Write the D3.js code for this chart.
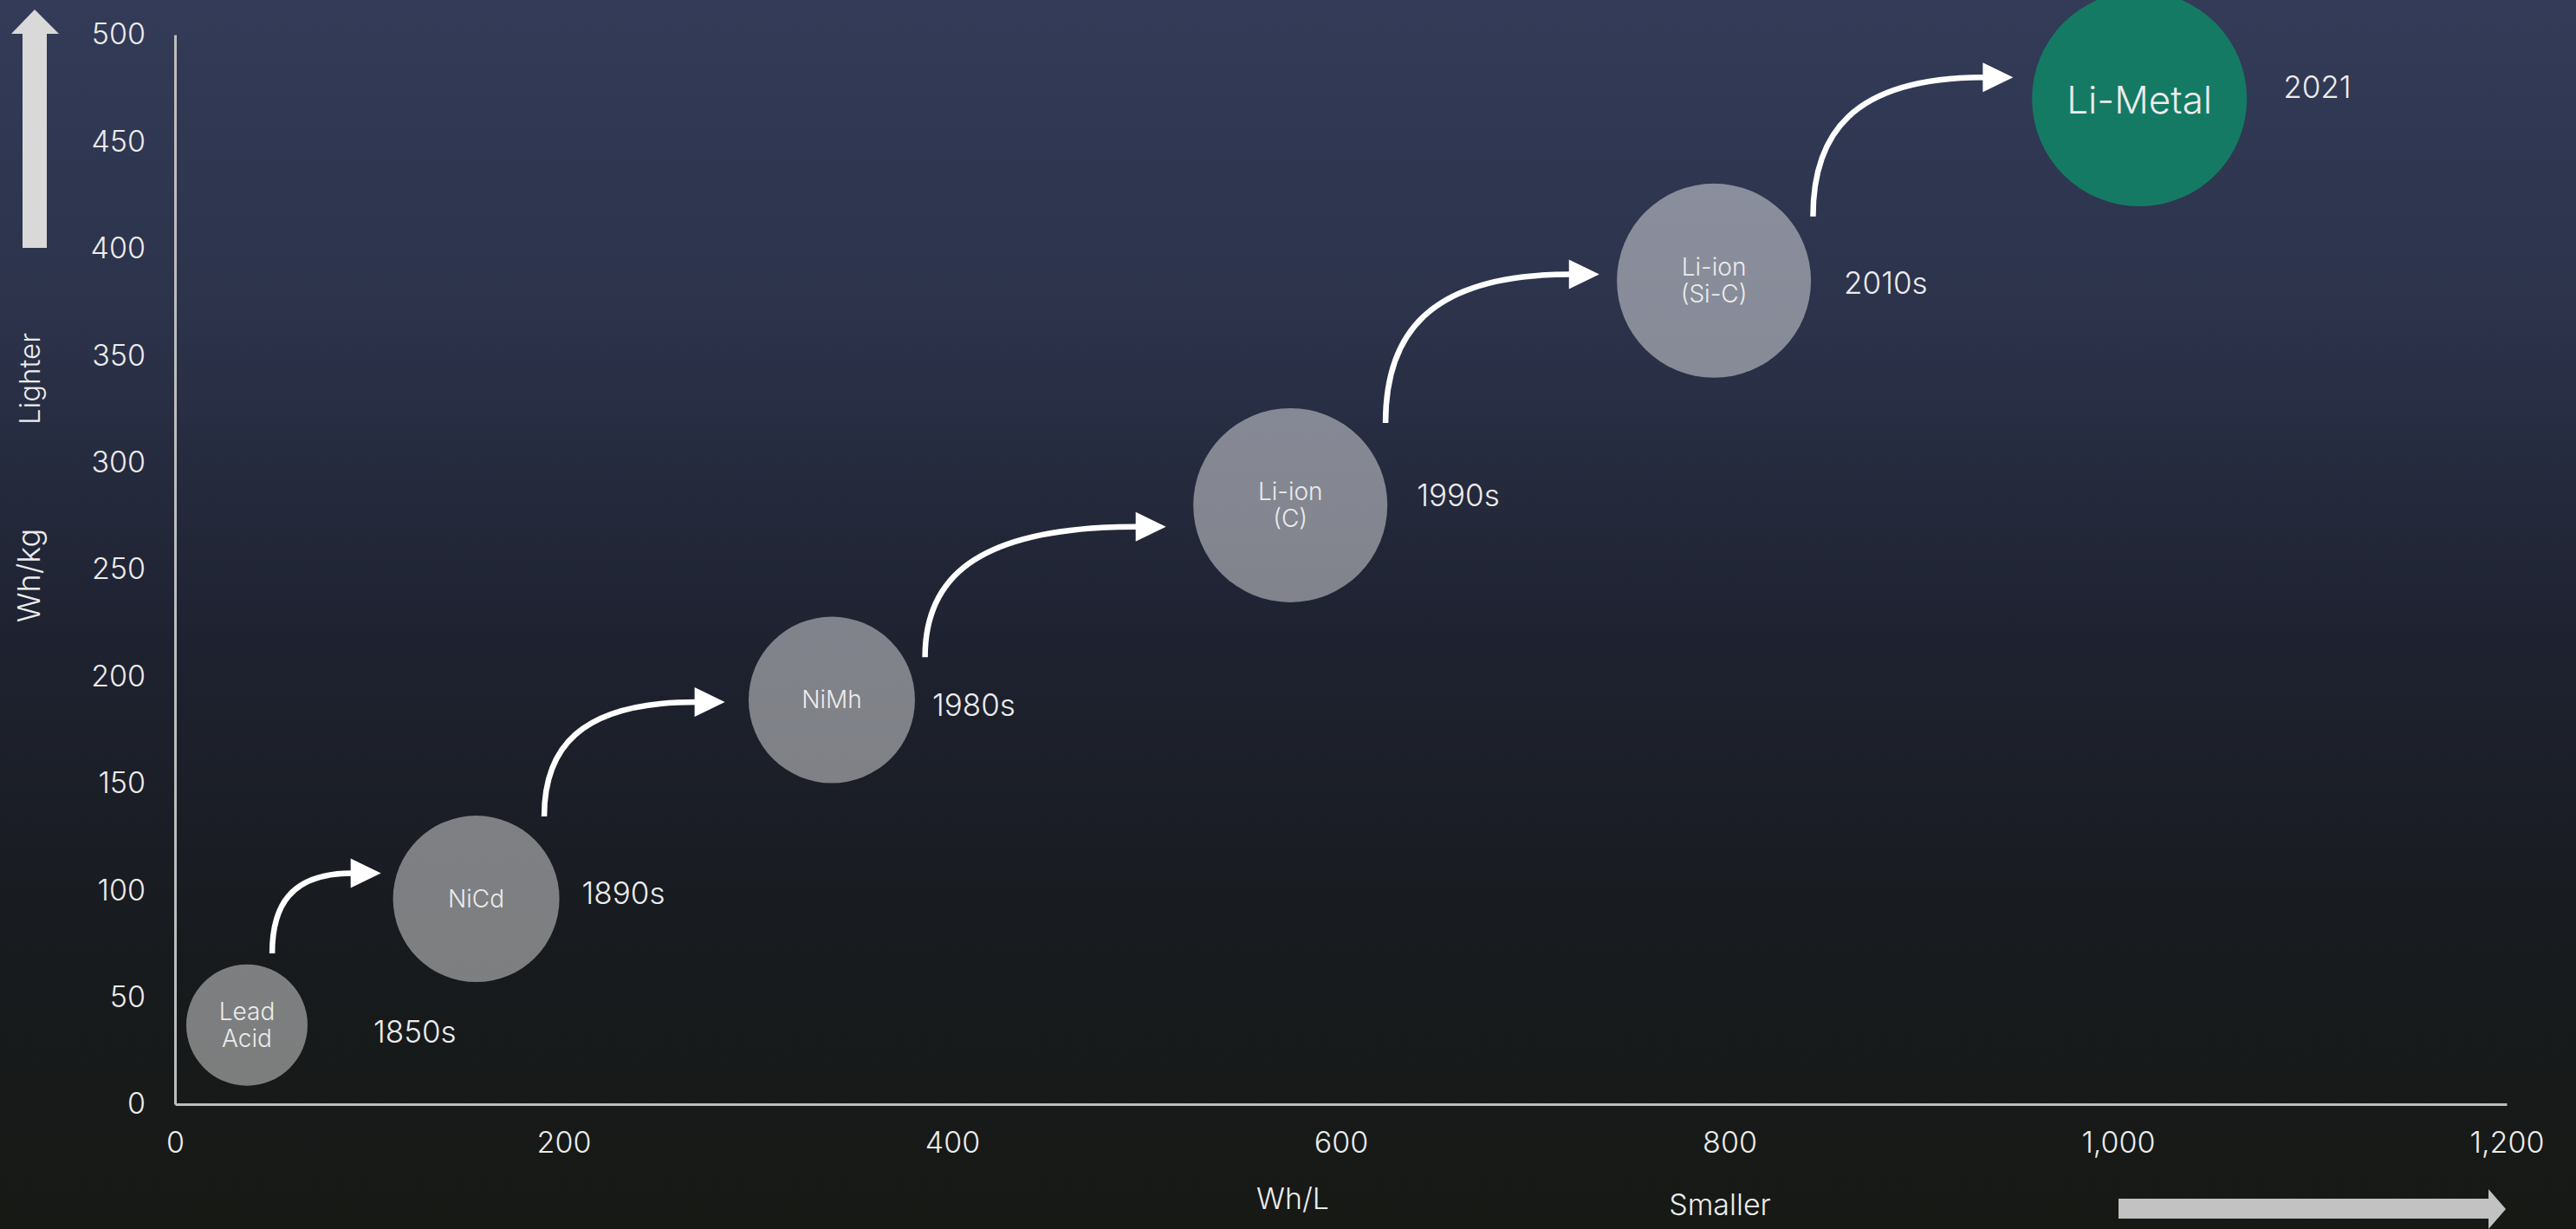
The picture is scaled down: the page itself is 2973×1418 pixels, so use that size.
<!DOCTYPE html>
<html>
<head>
<meta charset="utf-8">
<script src="https://cdn.jsdelivr.net/npm/d3@7/dist/d3.min.js"></script>
<style>
  html, body { margin: 0; padding: 0; background: #171a14; }
  svg { display: block; }
  text { font-family: "Inter", "Open Sans", sans-serif; font-weight: 300; fill: #ececec; }
</style>
</head>
<body>
<svg id="chart" width="2973" height="1418"></svg>
<script>
// Battery chemistries: volumetric (Wh/L) vs gravimetric (Wh/kg) energy density
const technologies = ["Lead Acid", "NiCd", "NiMh", "Li-ion (C)", "Li-ion (Si-C)", "Li-Metal"];
const labelLines   = [["Lead", "Acid"], ["NiCd"], ["NiMh"], ["Li-ion", "(C)"], ["Li-ion", "(Si-C)"], ["Li-Metal"]];
const eras         = ["1850s", "1890s", "1980s", "1990s", "2010s", "2021"];
const whPerLitre   = [37, 155, 338, 574, 792, 1011];
const whPerKg      = [37, 96, 189, 280, 385, 470];

// Axis ticks
const xTicks = [0, 200, 400, 600, 800, 1000, 1200];
const yTicks = [0, 50, 100, 150, 200, 250, 300, 350, 400, 450, 500];

// Progression arrows between generations, in data units: [x, y]
const arrowStarts = [[50, 70.5], [190, 134.5], [386, 209], [623, 318.5], [843, 415]];
const arrowTips   = [[106, 108], [283, 188], [510, 270], [733, 388], [946, 480]];

// Styling / layout
const bubbleRadius = [70, 96, 96, 112, 112, 124];
const eraOffset = [[76, 8], [26, -6], [20, 6], [34, -11], [38, 3], [42, -13]];
const bubbleFont = [28, 28, 28, 28, 28, 44];

const W = 2973, H = 1418;
const svg = d3.select("#chart");

// Background gradient
const defs = svg.append("defs");
const grad = defs.append("linearGradient").attr("id", "bg").attr("x1", 0).attr("y1", 0).attr("x2", 0).attr("y2", 1);
[[0, "#333b58"], [0.25, "#2c334b"], [0.5, "#1f2332"], [0.75, "#181b1f"], [1, "#161914"]]
  .forEach(([o, c]) => grad.append("stop").attr("offset", o).attr("stop-color", c));
svg.append("rect").attr("width", W).attr("height", H).attr("fill", "url(#bg)");

const x = d3.scaleLinear().domain([0, 1200]).range([202, 2893]);
const y = d3.scaleLinear().domain([0, 500]).range([1274, 40]);

// Axes
const xAxis = svg.append("g").attr("transform", `translate(0,${y(0)})`)
  .call(d3.axisBottom(x).tickValues(xTicks).tickFormat(d3.format(",")).tickSize(0).tickPadding(32));
const yAxis = svg.append("g").attr("transform", `translate(${x(0)},0)`)
  .call(d3.axisLeft(y).tickValues(yTicks).tickSize(0).tickPadding(34));
[xAxis, yAxis].forEach(g => {
  g.select(".domain").attr("stroke", "#bdbdbd").attr("stroke-width", 3);
  g.selectAll("text").style("font-size", "34px").attr("fill", "#e4e4e4");
});

// Axis titles and direction arrows
svg.append("text").attr("x", 1492).attr("y", 1395).attr("text-anchor", "middle")
  .style("font-size", "34px").text("Wh/L");
svg.append("text").attr("x", 1985).attr("y", 1402).attr("text-anchor", "middle")
  .style("font-size", "34px").text("Smaller");
svg.append("text").attr("transform", "translate(46,437) rotate(-90)").attr("text-anchor", "middle")
  .style("font-size", "33px").text("Lighter");
svg.append("text").attr("transform", "translate(46,664) rotate(-90)").attr("text-anchor", "middle")
  .style("font-size", "36px").text("Wh/kg");

svg.append("path").attr("fill", "#d9d9d9")
  .attr("d", "M26,286 L26,39 L13,39 L40,11 L68,39 L54,39 L54,286 Z");
svg.append("path").attr("fill", "#c2c2c2")
  .attr("d", "M2445,1383 L2872,1383 L2872,1372 L2892,1395 L2872,1418 L2872,1406 L2445,1406 Z");

// Curved arrows between generations
const arrowG = svg.append("g");
arrowStarts.forEach((s, i) => {
  const sx = x(s[0]), sy = y(s[1]);
  const tx = x(arrowTips[i][0]), ty = y(arrowTips[i][1]);
  const headLen = 35, headHalf = 17;
  const bx = tx - headLen;
  const dy = sy - ty;
  const p = d3.path();
  p.moveTo(sx, sy);
  p.bezierCurveTo(sx, ty + 0.42 * dy, sx + 0.22 * (bx - sx), ty, bx + 2, ty);
  arrowG.append("path").attr("d", p.toString()).attr("fill", "none")
    .attr("stroke", "#ffffff").attr("stroke-width", 6.5);
  arrowG.append("path").attr("fill", "#ffffff")
    .attr("d", `M${tx},${ty} L${bx},${ty - headHalf} L${bx},${ty + headHalf} Z`);
});

// Bubbles
const nodes = technologies.map((t, i) => ({
  name: t, lines: labelLines[i], era: eras[i],
  cx: x(whPerLitre[i]), cy: y(whPerKg[i]), r: bubbleRadius[i], i
}));

const bubble = svg.append("g").selectAll("g").data(nodes).join("g");
bubble.append("circle")
  .attr("cx", d => d.cx).attr("cy", d => d.cy).attr("r", d => d.r)
  .attr("fill", d => d.name === "Li-Metal" ? "#157a63" : "#ffffff")
  .attr("fill-opacity", d => d.name === "Li-Metal" ? 1 : 0.44);

bubble.each(function(d) {
  const g = d3.select(this);
  const fs = bubbleFont[d.i];
  const lh = fs * 1.12;
  const n = d.lines.length;
  d.lines.forEach((line, k) => {
    g.append("text")
      .attr("x", d.cx)
      .attr("y", d.cy + (k - (n - 1) / 2) * lh + (n === 1 && fs > 30 ? 2 : 0))
      .attr("dy", "0.35em")
      .attr("text-anchor", "middle")
      .style("font-size", fs + "px")
      .attr("fill", "#f2f2f2")
      .text(line);
  });
  g.append("text")
    .attr("x", d.cx + d.r + eraOffset[d.i][0])
    .attr("y", d.cy + eraOffset[d.i][1])
    .attr("dy", "0.35em")
    .style("font-size", "35px")
    .text(d.era);
});
</script>
</body>
</html>
